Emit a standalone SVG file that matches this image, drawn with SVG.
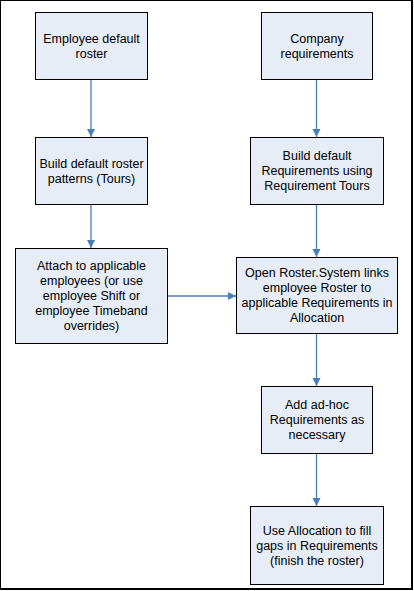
<svg xmlns="http://www.w3.org/2000/svg" width="414" height="591" viewBox="0 0 414 591">
<style>
.box{fill:#E6EDF7;stroke:#000;stroke-width:1}
.t{font-family:"Liberation Sans",Arial,sans-serif;font-size:12.5px;fill:#000;text-anchor:middle}
.c{stroke:#4A7EBB;stroke-width:1.3;fill:none;marker-end:url(#ah)}
</style>
<defs>
<marker id="ah" markerUnits="userSpaceOnUse" markerWidth="9" markerHeight="9" refX="8" refY="4" orient="auto">
<path d="M0,0 L8,4 L0,8 z" fill="#4A7EBB"/>
</marker>
</defs>
<rect x="0" y="0" width="412" height="589" fill="#fff" stroke="#000" stroke-width="2"/>
<g id="connectors">
<line class="c" x1="91" y1="79.5" x2="91" y2="137"/>
<line class="c" x1="91" y1="204.5" x2="91" y2="248"/>
<line class="c" x1="167.5" y1="296" x2="236" y2="296"/>
<line class="c" x1="316.5" y1="79.5" x2="316.5" y2="137"/>
<line class="c" x1="316.5" y1="204.5" x2="316.5" y2="257"/>
<line class="c" x1="316.5" y1="333.5" x2="316.5" y2="386"/>
<line class="c" x1="316.5" y1="453.5" x2="316.5" y2="506"/>
</g>
<g id="n1"><rect class="box" x="35.5" y="12.5" width="112" height="67"/>
<text class="t"><tspan x="91.5" y="42.5">Employee default</tspan><tspan x="91.5" y="57.5">roster</tspan></text></g>
<g id="n2"><rect class="box" x="35.5" y="137.5" width="112" height="67"/>
<text class="t"><tspan x="91.5" y="167.5">Build default roster</tspan><tspan x="91.5" y="182.5">patterns (Tours)</tspan></text></g>
<g id="n3"><rect class="box" x="15.5" y="248.5" width="152" height="95"/>
<text class="t"><tspan x="91.5" y="270">Attach to applicable</tspan><tspan x="91.5" y="285">employees (or use</tspan><tspan x="91.5" y="300">employee Shift or</tspan><tspan x="91.5" y="315">employee Timeband</tspan><tspan x="91.5" y="330">overrides)</tspan></text></g>
<g id="n4"><rect class="box" x="261.5" y="12.5" width="111" height="67"/>
<text class="t"><tspan x="317" y="42.5">Company</tspan><tspan x="317" y="57.5">requirements</tspan></text></g>
<g id="n5"><rect class="box" x="250.5" y="137.5" width="133" height="67"/>
<text class="t"><tspan x="317" y="160">Build default</tspan><tspan x="317" y="175">Requirements using</tspan><tspan x="317" y="190">Requirement Tours</tspan></text></g>
<g id="n6"><rect class="box" x="236.5" y="257.5" width="161" height="76"/>
<text class="t"><tspan x="317" y="277">Open Roster.System links</tspan><tspan x="317" y="292">employee Roster to</tspan><tspan x="317" y="307">applicable Requirements in</tspan><tspan x="317" y="322">Allocation</tspan></text></g>
<g id="n7"><rect class="box" x="261.5" y="386.5" width="111" height="67"/>
<text class="t"><tspan x="317" y="409">Add ad-hoc</tspan><tspan x="317" y="424">Requirements as</tspan><tspan x="317" y="439">necessary</tspan></text></g>
<g id="n8"><rect class="box" x="250.5" y="506.5" width="133" height="78"/>
<text class="t"><tspan x="317" y="534.5">Use Allocation to fill</tspan><tspan x="317" y="549.5">gaps in Requirements</tspan><tspan x="317" y="564.5">(finish the roster)</tspan></text></g>
</svg>
